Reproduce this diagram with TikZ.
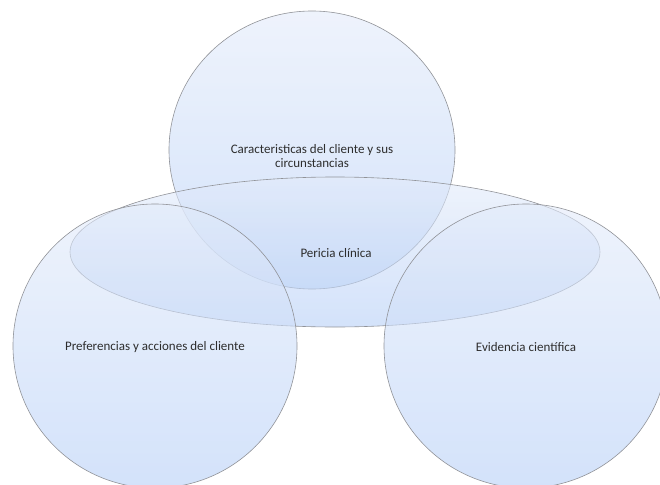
\documentclass[tikz,border=0pt]{standalone}
\usepackage{fontspec}
\setmainfont{Carlito}
\usetikzlibrary{shapes.geometric}

\definecolor{vennline}{RGB}{145,147,152}
\definecolor{venntop}{RGB}{227,235,250}
\definecolor{vennbottom}{RGB}{182,207,247}
\definecolor{venntext}{RGB}{45,45,45}

\begin{document}
\begin{tikzpicture}[x=1pt,y=-1pt]
  % Define styles for the sets and their labels
  \tikzset{
    set node/.style={ellipse, draw=vennline, line width=0.6pt,
      top color=venntop, bottom color=vennbottom,
      fill opacity=0.6, text opacity=1, inner sep=0pt},
    label node/.style={font=\fontsize{13}{14}\selectfont, text=venntext, align=center}
  }

  \useasboundingbox (0,0) rectangle (660,484);
  \clip (0,0) rectangle (660,484);

  % Sets
  \node[set node, minimum width=286pt, minimum height=278pt] (clientchar) at (312,150) {};
  \node[set node, minimum width=530pt, minimum height=150pt] (expertise) at (335,252) {};
  \node[set node, minimum width=284pt, minimum height=284pt] (clientpref) at (155,346) {};
  \node[set node, minimum width=284pt, minimum height=284pt] (evidence) at (526,346) {};

  % Labels
  \node[label node] (lclientchar) at (312,156) {Caracteristicas del cliente y sus\\circunstancias};
  \node[label node] (lexpertise) at (336,253) {Pericia clínica};
  \node[label node] (lclientpref) at (155,347) {Preferencias y acciones del cliente};
  \node[label node] (levidence) at (526,347) {Evidencia científica};
\end{tikzpicture}
\end{document}
